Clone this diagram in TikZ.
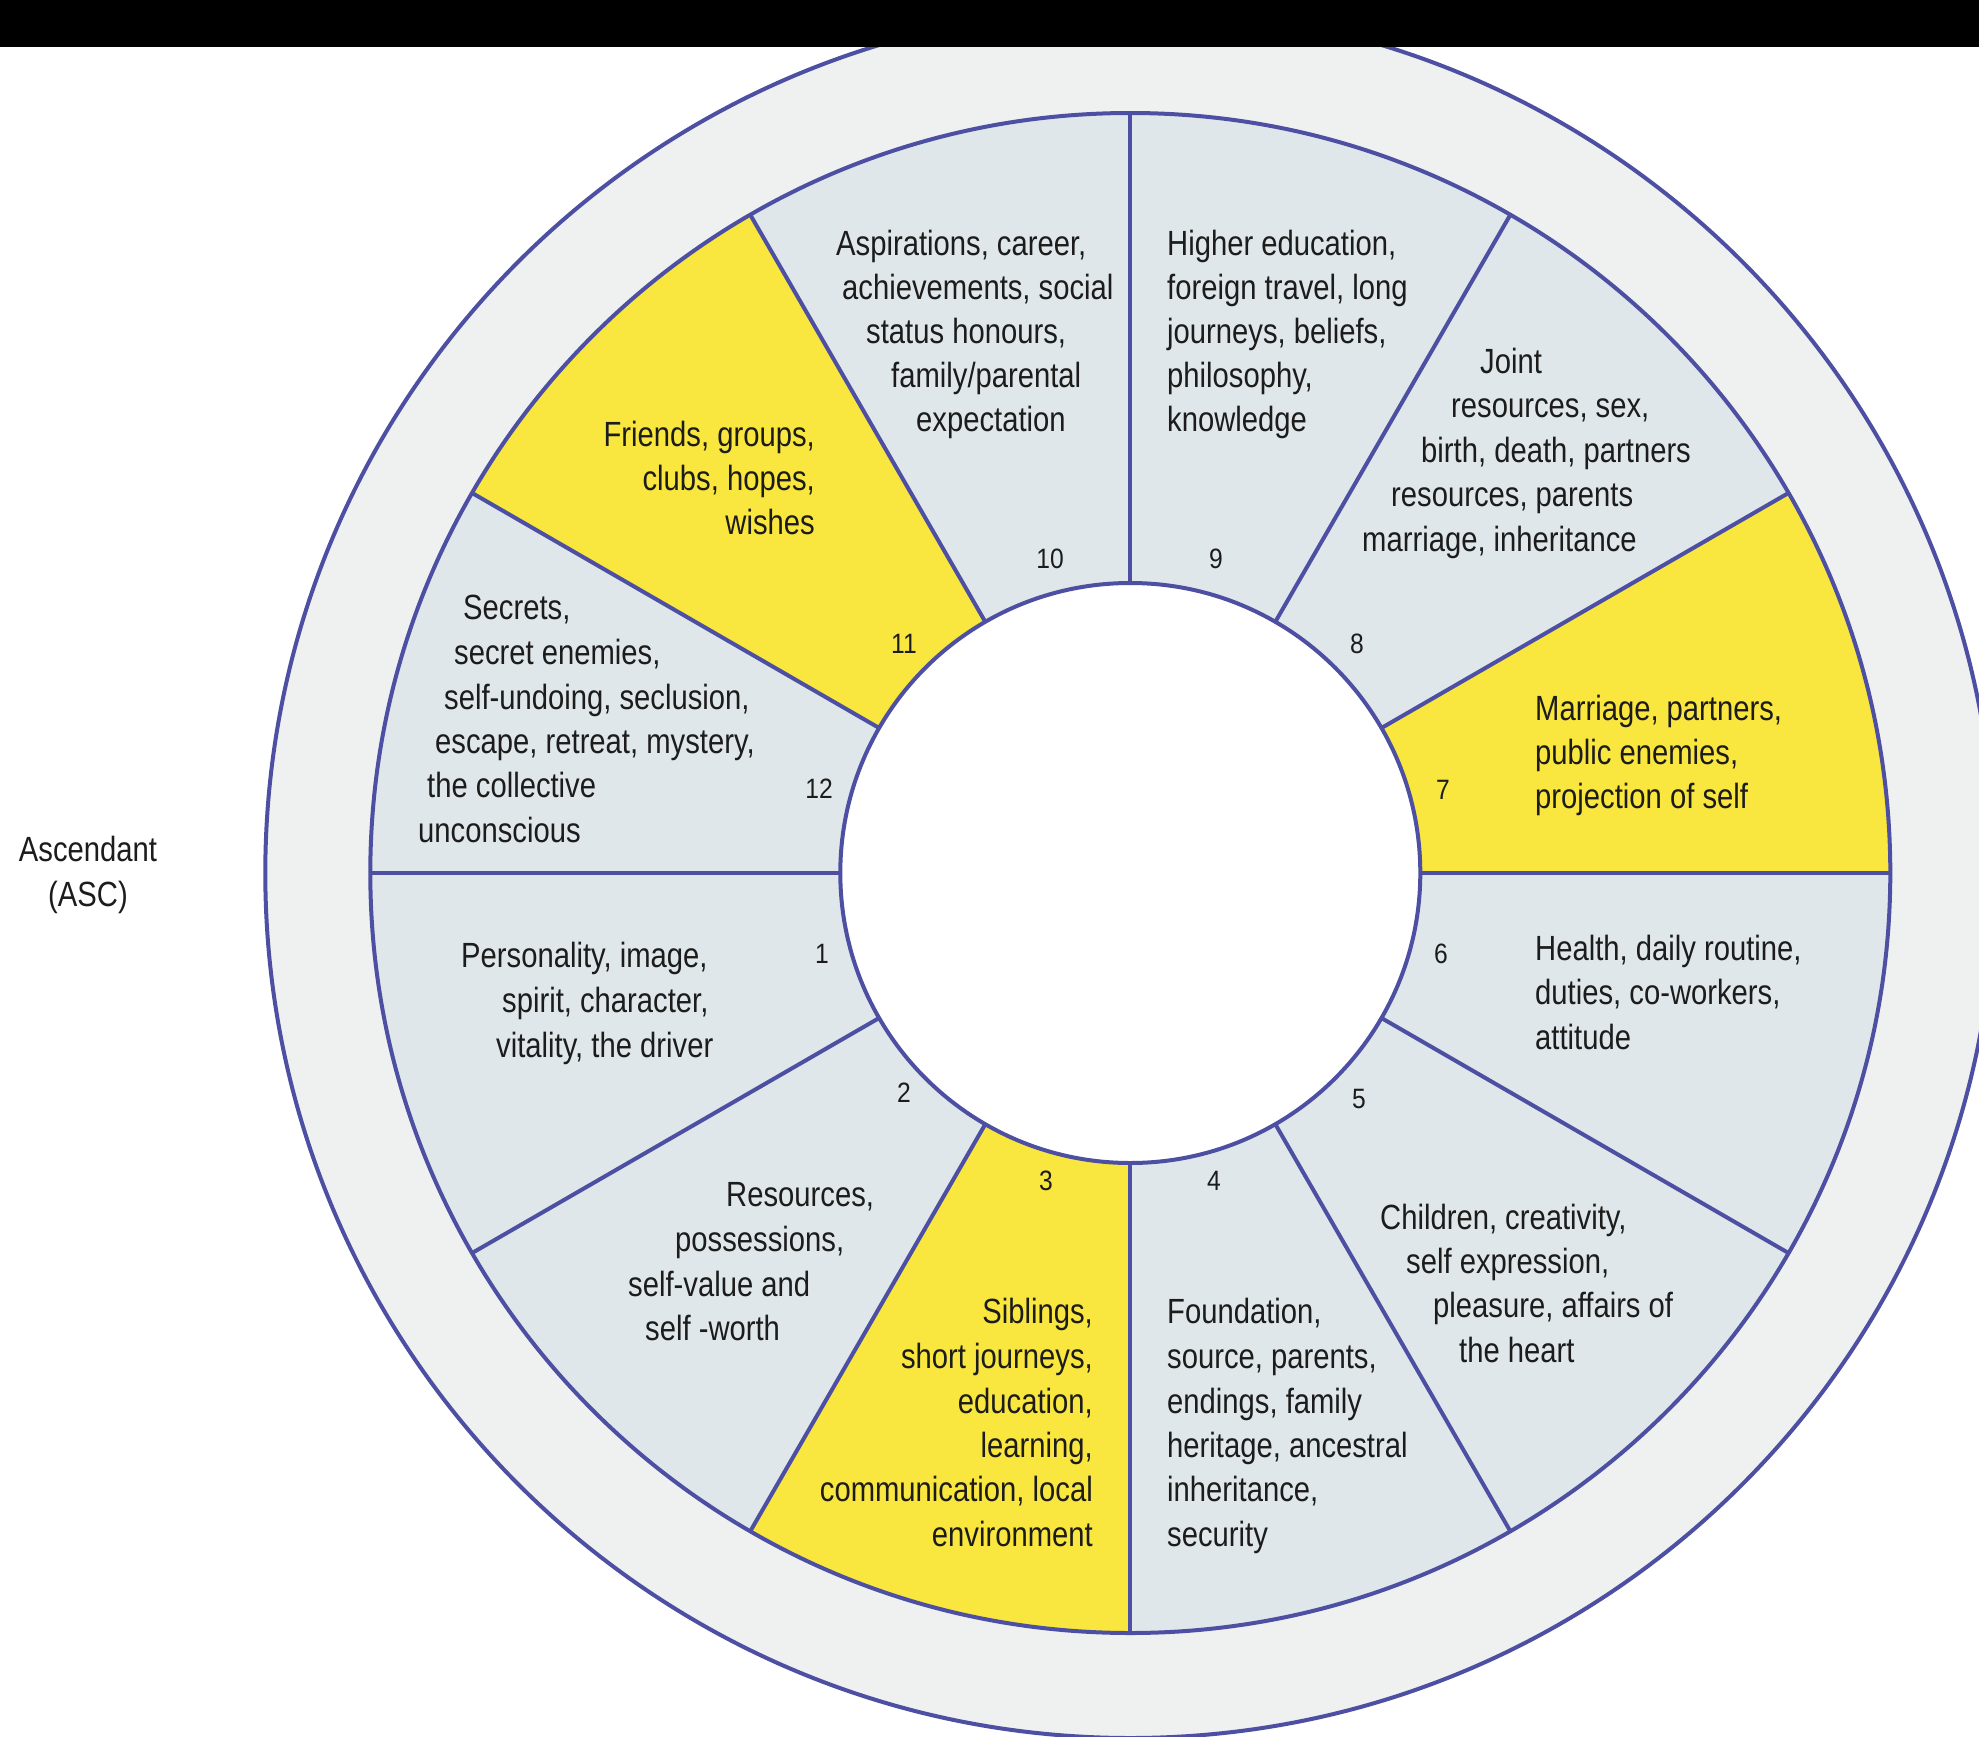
\documentclass[tikz,border=0pt]{standalone}
\usepackage{fontspec}
\setmainfont{Liberation Sans}[FakeStretch=0.835]
\newfontfamily\numfont{Liberation Sans}[FakeStretch=0.88]
\definecolor{ring}{HTML}{EFF1F1}
\definecolor{sect}{HTML}{E0E7EA}
\definecolor{yel}{HTML}{F9E63E}
\definecolor{linec}{HTML}{4D4FA3}
\definecolor{textc}{HTML}{1C1C1C}
\begin{document}
\begin{tikzpicture}[x=1pt,y=-1pt,
  txt/.style={inner sep=0pt, text height=25pt, text depth=0pt, font=\fontsize{35}{44}\selectfont, text=textc},
  lt/.style={txt, anchor=west},
  rt/.style={txt, anchor=east},
  ct/.style={txt, anchor=center},
  num/.style={inner sep=0pt, font=\numfont\fontsize{28}{30}\selectfont, text=textc},
  wl/.style={draw=linec, line width=4pt}]
\clip (0,0) rectangle (1979,1737);
\fill[white] (0,0) rectangle (1979,1737);
\coordinate (c) at (1130.3,873);
% outer ring
\fill[ring] (c) circle[radius=865];
\draw[wl] (c) circle[radius=865];
% wheel
\fill[sect] (c) circle[radius=760];
\foreach \a in {90,210,330}
  \fill[yel] (c) -- ++(\a:760) arc[start angle=\a, end angle=\a+30, radius=760] -- cycle;
\foreach \a in {0,30,...,330}
  \draw[wl] (c) -- ++(\a:760);
\draw[wl] (c) circle[radius=760];
\fill[white] (c) circle[radius=290];
\draw[wl] (c) circle[radius=290];
% black bar
\fill[black] (0,0) rectangle (1979,47);

% House 10
\node[lt] (h10a) at (836,243) {Aspirations, career,};
\node[lt] (h10b) at (842,287) {achievements, social};
\node[lt] (h10c) at (866,331) {status honours,};
\node[lt] (h10d) at (891,375) {family/parental};
\node[lt] (h10e) at (916,419) {expectation};
% House 9
\node[lt] (h9a) at (1167,243) {Higher education,};
\node[lt] (h9b) at (1167,287) {foreign travel, long};
\node[lt] (h9c) at (1167,331) {journeys, beliefs,};
\node[lt] (h9d) at (1167,375) {philosophy,};
\node[lt] (h9e) at (1167,419) {knowledge};
% House 8
\node[lt] (h8a) at (1480,361) {Joint};
\node[lt] (h8b) at (1451,405) {resources, sex,};
\node[lt] (h8c) at (1421,450) {birth, death, partners};
\node[lt] (h8d) at (1391,494) {resources, parents};
\node[lt] (h8e) at (1362,539) {marriage, inheritance};
% House 7
\node[lt] (h7a) at (1535,708) {Marriage, partners,};
\node[lt] (h7b) at (1535,752) {public enemies,};
\node[lt] (h7c) at (1535,796) {projection of self};
% House 6
\node[lt] (h6a) at (1535,948) {Health, daily routine,};
\node[lt] (h6b) at (1535,992) {duties, co-workers,};
\node[lt] (h6c) at (1535,1037) {attitude};
% House 5
\node[lt] (h5a) at (1380,1217) {Children, creativity,};
\node[lt] (h5b) at (1406,1261) {self expression,};
\node[lt] (h5c) at (1433,1305) {pleasure, affairs of};
\node[lt] (h5d) at (1459,1350) {the heart};
% House 4
\node[lt] (h4a) at (1167,1311) {Foundation,};
\node[lt] (h4b) at (1167,1356) {source, parents,};
\node[lt] (h4c) at (1167,1401) {endings, family};
\node[lt] (h4d) at (1167,1445) {heritage, ancestral};
\node[lt] (h4e) at (1167,1489) {inheritance,};
\node[lt] (h4f) at (1167,1534) {security};
% House 3
\node[rt] (h3a) at (1093,1311) {Siblings,};
\node[rt] (h3b) at (1093,1356) {short journeys,};
\node[rt] (h3c) at (1093,1401) {education,};
\node[rt] (h3d) at (1093,1445) {learning,};
\node[rt] (h3e) at (1093,1489) {communication, local};
\node[rt] (h3f) at (1093,1534) {environment};
% House 2
\node[lt] (h2a) at (726,1194) {Resources,};
\node[lt] (h2b) at (675,1239) {possessions,};
\node[lt] (h2c) at (628,1284) {self-value and};
\node[lt] (h2d) at (645,1328) {self -worth};
% House 1
\node[lt] (h1a) at (461,955) {Personality, image,};
\node[lt] (h1b) at (502,1000) {spirit, character,};
\node[lt] (h1c) at (496,1045) {vitality, the driver};
% House 12
\node[lt] (h12a) at (463,607) {Secrets,};
\node[lt] (h12b) at (454,652) {secret enemies,};
\node[lt] (h12c) at (444,697) {self-undoing, seclusion,};
\node[lt] (h12d) at (435,741) {escape, retreat, mystery,};
\node[lt] (h12e) at (427,785) {the collective};
\node[lt] (h12f) at (418,830) {unconscious};
% House 11
\node[rt] (h11a) at (815,434) {Friends, groups,};
\node[rt] (h11b) at (815,478) {clubs, hopes,};
\node[rt] (h11c) at (815,522) {wishes};
% Ascendant
\node[ct] (asc1) at (88,849) {Ascendant};
\node[ct] (asc2) at (88,894) {(ASC)};

% numbers
\node[num] (n10) at (1050,559) {10};
\node[num] (n9) at (1216,559) {9};
\node[num] (n8) at (1357,644) {8};
\node[num] (n7) at (1443,790) {7};
\node[num] (n6) at (1441,954) {6};
\node[num] (n5) at (1359,1099) {5};
\node[num] (n4) at (1214,1181) {4};
\node[num] (n3) at (1046,1181) {3};
\node[num] (n2) at (904,1093) {2};
\node[num] (n1) at (822,954) {1};
\node[num] (n12) at (819,789) {12};
\node[num] (n11) at (904,644) {11};
\end{tikzpicture}
\end{document}
